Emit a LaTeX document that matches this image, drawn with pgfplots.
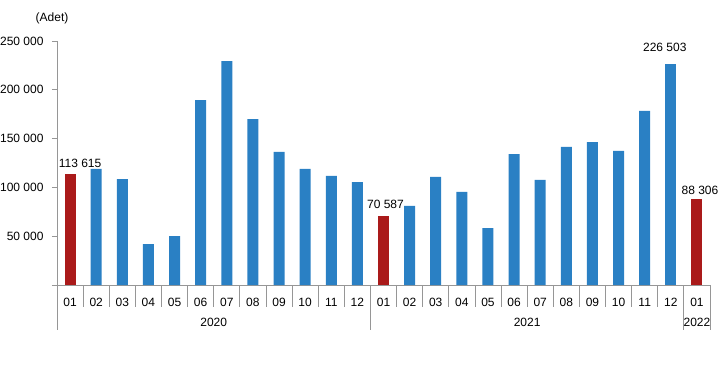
\documentclass[border=0pt]{standalone}
\usepackage{pgfplots}
\pgfplotsset{compat=1.18}
\usepackage{fontspec}
\setmainfont{Liberation Sans}
\definecolor{barblue}{RGB}{42,128,196}
\definecolor{barred}{RGB}{170,26,26}
\definecolor{axgray}{RGB}{150,150,150}
\newcommand{\fs}{\fontsize{12}{14}\selectfont}
\begin{document}
\begin{tikzpicture}
\useasboundingbox (-57pt,-80pt) rectangle (665pt,285pt);
\begin{axis}[
  at={(0,0)}, anchor=south west,
  scale only axis, width=653pt, height=244pt,
  xmin=-0.5, xmax=24.5, ymin=0, ymax=250000,
  axis x line*=bottom, axis y line*=left,
  axis line style={axgray, line width=0.8pt},
  xtick={0,...,24},
  xticklabels={01,02,03,04,05,06,07,08,09,10,11,12,01,02,03,04,05,06,07,08,09,10,11,12,01},
  x tick style={draw=none},
  xticklabel style={font=\fs, yshift=-5pt},
  ytick={0,50000,100000,150000,200000,250000},
  yticklabels={,50 000,100 000,150 000,200 000,250 000},
  scaled y ticks=false,
  y tick style={axgray, line width=0.8pt},
  tick align=outside, major tick length=5pt,
  yticklabel style={font=\fs, xshift=-5pt},
  /pgf/number format/assume math mode=true,
  ybar, bar width=11pt, bar shift=0pt,
  clip=false,
  point meta=explicit symbolic,
]
\addplot[fill=barblue, draw=none] coordinates {
 (1,119000) (2,108600) (3,42000) (4,50200) (5,189500) (6,229500) (7,170000) (8,136300) (9,119000) (10,111700) (11,105500)
 (13,81000) (14,110700) (15,95300) (16,58400) (17,134200) (18,107600) (19,141400) (20,146500) (21,137300) (22,178300)
};
\addplot[fill=barred, draw=none, nodes near coords, nodes near coords style={font=\fs, xshift=10pt, yshift=3pt}] coordinates {(0,113615) [113 615]};
\addplot[fill=barred, draw=none, nodes near coords, nodes near coords style={font=\fs, xshift=2pt, yshift=4pt}] coordinates {(12,70587) [70 587]};
\addplot[fill=barblue, draw=none, nodes near coords, nodes near coords style={font=\fs, xshift=-6pt, yshift=9pt}] coordinates {(23,226503) [226 503]};
\addplot[fill=barred, draw=none, nodes near coords, nodes near coords style={font=\fs, xshift=3pt, yshift=1pt}] coordinates {(24,88306) [88 306]};
% category separators
\pgfplotsinvokeforeach{0.5,1.5,...,23.5}{
  \draw[axgray, line width=0.8pt] (axis cs:#1,0) -- ([yshift=-22pt]axis cs:#1,0);
}
% group separators
\pgfplotsinvokeforeach{-0.5,11.5,23.5,24.5}{
  \draw[axgray, line width=0.8pt] (axis cs:#1,0) -- ([yshift=-45pt]axis cs:#1,0);
}
\node[font=\fs] at ([yshift=-37pt]axis cs:5.5,0) {2020};
\node[font=\fs] at ([yshift=-37pt]axis cs:17.5,0) {2021};
\node[font=\fs] at ([yshift=-37pt]axis cs:24,0) {2022};
\node[font=\fs] at ([xshift=-5pt, yshift=23pt]rel axis cs:0,1) {(Adet)};
\end{axis}
\end{tikzpicture}
\end{document}
